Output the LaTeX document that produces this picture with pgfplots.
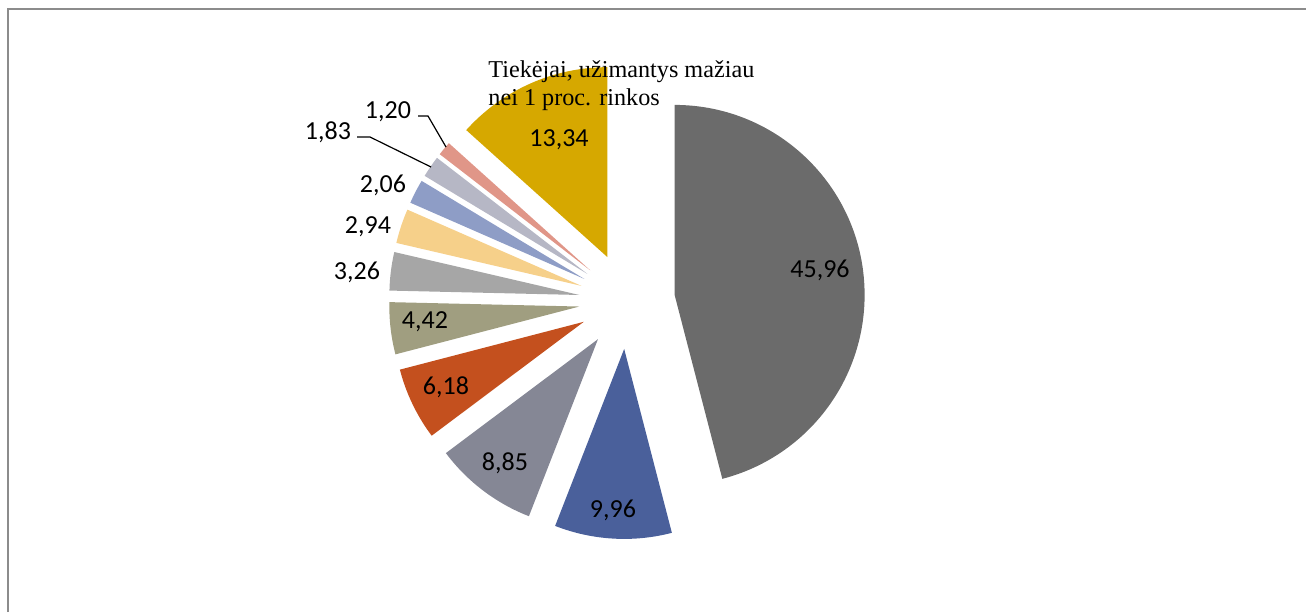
\documentclass[border=0pt]{standalone}
\usepackage{pgfplots}
\usepackage{pgfplotstable}
\pgfplotsset{compat=1.18}
\usepackage{fontspec}
\setmainfont{Liberation Serif}
\newfontfamily\calibri{Carlito}

\definecolor{c0}{HTML}{6B6B6B}
\definecolor{c1}{HTML}{4A609B}
\definecolor{c2}{HTML}{858795}
\definecolor{c3}{HTML}{C4501E}
\definecolor{c4}{HTML}{A09E80}
\definecolor{c5}{HTML}{A6A6A6}
\definecolor{c6}{HTML}{F6D08A}
\definecolor{c7}{HTML}{8E9DC6}
\definecolor{c8}{HTML}{B6B7C5}
\definecolor{c9}{HTML}{E09688}
\definecolor{c10}{HTML}{D6A800}
\definecolor{framegray}{HTML}{8C8C8C}

% share of the market (%), clockwise from 12 o'clock
\pgfplotstableread{
value color
45.96 c0
9.96  c1
8.85  c2
6.18  c3
4.42  c4
3.26  c5
2.94  c6
2.06  c7
1.83  c8
1.20  c9
13.34 c10
}\piedata

\def\cx{627}\def\cy{311}\def\R{190}\def\Rpt{95pt}\def\d{48}

\newcommand\pieslices{%
  \def\cum{0}%
  \pgfplotsforeachungrouped \i in {0,...,10}{%
    \pgfplotstablegetelem{\i}{value}\of\piedata \let\v\pgfplotsretval
    \pgfplotstablegetelem{\i}{color}\of\piedata \let\col\pgfplotsretval
    \pgfmathsetmacro\aone{90-3.6*\cum}%
    \pgfmathsetmacro\atwo{90-3.6*(\cum+\v)}%
    \pgfmathsetmacro\amid{(\aone+\atwo)/2}%
    \pgfmathsetmacro\px{\cx+\d*cos(\amid)}%
    \pgfmathsetmacro\py{\cy+\d*sin(\amid)}%
    \pgfmathsetmacro\qx{\px+\R*cos(\aone)}%
    \pgfmathsetmacro\qy{\py+\R*sin(\aone)}%
    \edef\cmd{\noexpand\fill[\col] (axis cs:\px,\py) -- (axis cs:\qx,\qy) arc[start angle=\aone, end angle=\atwo, radius=\Rpt] -- cycle;}%
    \cmd
    \pgfmathsetmacro\cum{\cum+\v}%
  }%
}

\begin{document}
\begin{tikzpicture}
\begin{axis}[
  width=653pt, height=306pt, scale only axis,
  xmin=0, xmax=1306, ymin=0, ymax=612,
  hide axis, clip=false,
]
\coordinate (ll) at (axis cs:0,0);
\coordinate (ur) at (axis cs:1306,612);
\draw[framegray, line width=1pt] (axis cs:7.5,0) -- (axis cs:7.5,602.5) -- (axis cs:1306,602.5);
\pieslices
% leader lines
\draw[black, line width=0.6pt] (axis cs:418,496) -- (axis cs:428,496) -- (axis cs:446,465);
\draw[black, line width=0.6pt] (axis cs:357,475) -- (axis cs:370,475) -- (axis cs:431,445);
% data labels
\begin{scope}[every node/.style={font=\calibri\fontsize{13}{15}\selectfont, inner sep=0pt}]
\node at (axis cs:820,342) {45,96};
\node at (axis cs:613,102) {9,96};
\node at (axis cs:505,149) {8,85};
\node at (axis cs:446,225) {6,18};
\node at (axis cs:425,290) {4,42};
\node at (axis cs:559,472) {13,34};
\node at (axis cs:357,340) {3,26};
\node at (axis cs:368,385) {2,94};
\node at (axis cs:383,427) {2,06};
\node at (axis cs:328,480) {1,83};
\node at (axis cs:388,500) {1,20};
\end{scope}
\node[anchor=base west, inner sep=0pt, font=\fontsize{12.1}{13.5}\selectfont] at (axis cs:488,534) {Tiekėjai, užimantys mažiau};
\node[anchor=base west, inner sep=0pt, font=\fontsize{12.1}{13.5}\selectfont] at (axis cs:488,507) {nei 1 proc. rinkos};
\end{axis}
\pgfresetboundingbox
\path[use as bounding box] (ll) rectangle (ur);
\end{tikzpicture}
\end{document}
